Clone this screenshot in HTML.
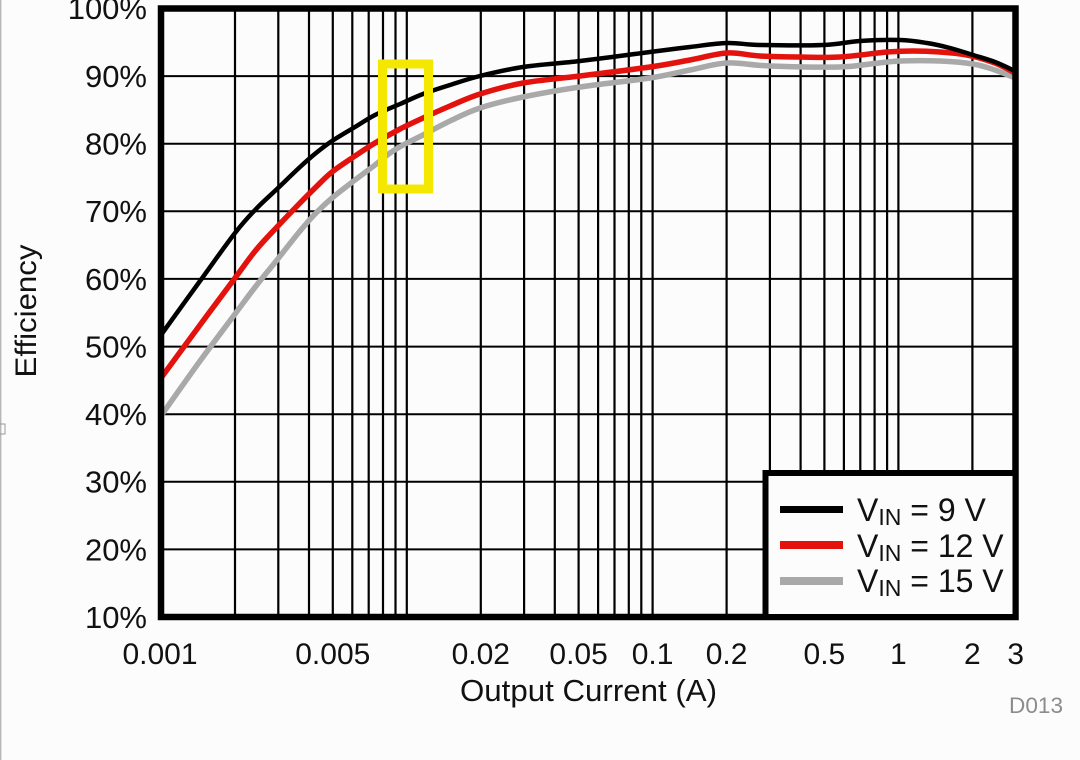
<!DOCTYPE html>
<html>
<head>
<meta charset="utf-8">
<style>
  html, body { margin: 0; padding: 0; background: #fdfcfd; }
  svg { display: block; }
  text { font-family: "Liberation Sans", Arial, sans-serif; fill: #111; }
</style>
</head>
<body>
<svg width="1080" height="760" viewBox="0 0 1080 760" xmlns="http://www.w3.org/2000/svg">
  <rect x="0" y="0" width="1080" height="760" fill="#fdfcfd"/>
  <line x1="0.8" y1="0" x2="0.8" y2="760" stroke="#9a9a9a" stroke-width="1"/>
  <path d="M0 424 h5 v10 h-5" fill="none" stroke="#9a9a9a" stroke-width="1"/>

  <!-- horizontal gridlines -->
  <g stroke="#000" stroke-width="2">
    <line x1="161" x2="1015.5" y1="76.1" y2="76.1"/>
    <line x1="161" x2="1015.5" y1="143.7" y2="143.7"/>
    <line x1="161" x2="1015.5" y1="211.3" y2="211.3"/>
    <line x1="161" x2="1015.5" y1="278.9" y2="278.9"/>
    <line x1="161" x2="1015.5" y1="346.6" y2="346.6"/>
    <line x1="161" x2="1015.5" y1="414.2" y2="414.2"/>
    <line x1="161" x2="1015.5" y1="481.8" y2="481.8"/>
    <line x1="161" x2="1015.5" y1="549.4" y2="549.4"/>
  </g>
  <!-- vertical gridlines -->
  <g stroke="#000" stroke-width="2.2">
    <line y1="8.5" y2="617" x1="235.0" x2="235.0"/>
    <line y1="8.5" y2="617" x1="278.3" x2="278.3"/>
    <line y1="8.5" y2="617" x1="309.0" x2="309.0"/>
    <line y1="8.5" y2="617" x1="332.8" x2="332.8"/>
    <line y1="8.5" y2="617" x1="352.3" x2="352.3"/>
    <line y1="8.5" y2="617" x1="368.7" x2="368.7"/>
    <line y1="8.5" y2="617" x1="383.0" x2="383.0"/>
    <line y1="8.5" y2="617" x1="395.5" x2="395.5"/>
    <line y1="8.5" y2="617" x1="406.8" x2="406.8"/>
    <line y1="8.5" y2="617" x1="480.8" x2="480.8"/>
    <line y1="8.5" y2="617" x1="524.1" x2="524.1"/>
    <line y1="8.5" y2="617" x1="554.8" x2="554.8"/>
    <line y1="8.5" y2="617" x1="578.6" x2="578.6"/>
    <line y1="8.5" y2="617" x1="598.1" x2="598.1"/>
    <line y1="8.5" y2="617" x1="614.5" x2="614.5"/>
    <line y1="8.5" y2="617" x1="628.8" x2="628.8"/>
    <line y1="8.5" y2="617" x1="641.3" x2="641.3"/>
    <line y1="8.5" y2="617" x1="652.6" x2="652.6"/>
    <line y1="8.5" y2="617" x1="726.6" x2="726.6"/>
    <line y1="8.5" y2="617" x1="769.9" x2="769.9"/>
    <line y1="8.5" y2="617" x1="800.6" x2="800.6"/>
    <line y1="8.5" y2="617" x1="824.4" x2="824.4"/>
    <line y1="8.5" y2="617" x1="843.9" x2="843.9"/>
    <line y1="8.5" y2="617" x1="860.3" x2="860.3"/>
    <line y1="8.5" y2="617" x1="874.6" x2="874.6"/>
    <line y1="8.5" y2="617" x1="887.1" x2="887.1"/>
    <line y1="8.5" y2="617" x1="898.4" x2="898.4"/>
    <line y1="8.5" y2="617" x1="972.4" x2="972.4"/>
  </g>

  <!-- curves -->
  <g fill="none" stroke-linejoin="round" stroke-linecap="round">
    <polyline class="smooth" stroke="#a9a9a9" stroke-width="5.5"
      points="163,413 200,361 235,314 256,286 277,260 300,231 316,213 332,198 355,180 375,165 390,153 405,144 423,135 450,121 480,108 523,97 580,87 650,78 690,70 727,63 770,66 840,67 870,64 900,61 940,61 973,64 995,70 1015,78"/>
    <polyline class="smooth" stroke="#e3120c" stroke-width="5.5"
      points="161,378 200,325 235,278 256,250 277,227 300,203 316,187 332,172 355,156 375,143 400,129 423,118 450,106 480,94 523,83 580,76 650,67 690,60 727,53 760,56 800,57 840,57 887,52 913,51 940,52 967,55 995,63 1015,73"/>
    <polyline class="smooth" stroke="#000" stroke-width="4.5"
      points="161,335 200,281 235,233 256,209 277,189 300,167 316,153 332,141 355,127 375,115 400,104 423,94 450,85 480,76 523,67 580,61 650,52 690,47 727,43 760,45 823,45 860,41 900,40 927,43 950,48 973,55 995,62 1015,71"/>
  </g>

  <!-- frame -->
  <rect x="161" y="8.5" width="854.5" height="608.5" fill="none" stroke="#000" stroke-width="6.5"/>

  <!-- legend -->
  <rect x="765.5" y="473" width="250" height="144" fill="#fdfcfd" stroke="#000" stroke-width="6"/>
  <line x1="780" x2="843" y1="509.5" y2="509.5" stroke="#000" stroke-width="7"/>
  <line x1="780" x2="843" y1="545" y2="545" stroke="#e3120c" stroke-width="8"/>
  <line x1="780" x2="843" y1="581" y2="581" stroke="#a9a9a9" stroke-width="8"/>
  <text x="857" y="521" font-size="32">V<tspan font-size="23" dy="4">IN</tspan><tspan dy="-4"> = 9 V</tspan></text>
  <text x="857" y="557" font-size="32">V<tspan font-size="23" dy="4">IN</tspan><tspan dy="-4"> = 12 V</tspan></text>
  <text x="857" y="592" font-size="32">V<tspan font-size="23" dy="4">IN</tspan><tspan dy="-4"> = 15 V</tspan></text>

  <!-- yellow highlight box -->
  <rect x="382.5" y="64" width="46" height="125" fill="none" stroke="#f5e800" stroke-width="9"/>

  <!-- y tick labels -->
  <g font-size="31" text-anchor="end">
    <text x="147" y="19">100%</text>
    <text x="147" y="87">90%</text>
    <text x="147" y="154.6">80%</text>
    <text x="147" y="222.2">70%</text>
    <text x="147" y="289.8">60%</text>
    <text x="147" y="357.5">50%</text>
    <text x="147" y="425.1">40%</text>
    <text x="147" y="492.7">30%</text>
    <text x="147" y="560.3">20%</text>
    <text x="147" y="627.9">10%</text>
  </g>

  <!-- x tick labels -->
  <g font-size="30" text-anchor="middle">
    <text x="160" y="664">0.001</text>
    <text x="332.8" y="664">0.005</text>
    <text x="480.8" y="664">0.02</text>
    <text x="578.6" y="664">0.05</text>
    <text x="652.6" y="664">0.1</text>
    <text x="726.6" y="664">0.2</text>
    <text x="824.4" y="664">0.5</text>
    <text x="898.4" y="664">1</text>
    <text x="972.4" y="664">2</text>
    <text x="1015.7" y="664">3</text>
  </g>

  <!-- axis titles -->
  <text x="588.5" y="701" font-size="31" text-anchor="middle" textLength="257" lengthAdjust="spacingAndGlyphs">Output Current (A)</text>
  <text transform="translate(36,311) rotate(-90)" font-size="30" text-anchor="middle" textLength="133" lengthAdjust="spacingAndGlyphs">Efficiency</text>
  <text x="1009" y="713" font-size="22" style="fill:#8c8c8c" textLength="54" lengthAdjust="spacingAndGlyphs">D013</text>
</svg>
<script>
(function(){
  var NS = "http://www.w3.org/2000/svg";
  var els = document.querySelectorAll("polyline.smooth");
  for (var k = 0; k < els.length; k++) {
    var pl = els[k];
    var pts = pl.getAttribute("points").trim().split(/\s+/).map(function(s){var a=s.split(",");return [parseFloat(a[0]),parseFloat(a[1])];});
    var d = "M" + pts[0][0] + " " + pts[0][1];
    for (var i = 0; i < pts.length - 1; i++) {
      var p0 = pts[i-1] || pts[i], p1 = pts[i], p2 = pts[i+1], p3 = pts[i+2] || pts[i+1];
      var c1x = p1[0] + (p2[0]-p0[0])/6, c1y = p1[1] + (p2[1]-p0[1])/6;
      var c2x = p2[0] - (p3[0]-p1[0])/6, c2y = p2[1] - (p3[1]-p1[1])/6;
      d += " C" + c1x.toFixed(2) + " " + c1y.toFixed(2) + " " + c2x.toFixed(2) + " " + c2y.toFixed(2) + " " + p2[0] + " " + p2[1];
    }
    var path = document.createElementNS(NS, "path");
    path.setAttribute("d", d);
    path.setAttribute("stroke", pl.getAttribute("stroke"));
    path.setAttribute("stroke-width", pl.getAttribute("stroke-width"));
    path.setAttribute("fill", "none");
    path.setAttribute("stroke-linecap", "round");
    path.setAttribute("stroke-linejoin", "round");
    pl.parentNode.replaceChild(path, pl);
  }
})();
</script>
</body>
</html>
